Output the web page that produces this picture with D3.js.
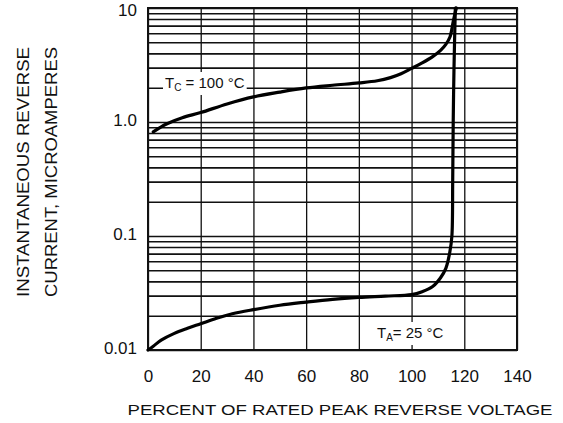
<!DOCTYPE html>
<html>
<head>
<meta charset="utf-8">
<script src="https://cdn.jsdelivr.net/npm/d3@7"></script>
<style>
  body { margin: 0; background: #fff; }
  text { font-family: 'Liberation Sans', Arial, sans-serif; fill: #111; }
</style>
</head>
<body>
<div id="chart"></div>
<script>
// data (percent of rated voltage, current in uA)
const xTicks = [0, 20, 40, 60, 80, 100, 120, 140];
const yTicks = [0.01, 0.1, 1, 10];
const yTickLabels = ['0.01', '0.1', '1.0', '10'];

const hotX = [2, 7, 13, 20, 30, 40, 50, 60, 70, 80, 87, 92, 96, 100, 104, 108, 111, 113, 114.6, 115.8, 116.6, 117];
const hotY = [0.82, 0.96, 1.09, 1.21, 1.44, 1.66, 1.83, 1.99, 2.1, 2.2, 2.3, 2.45, 2.65, 2.95, 3.3, 3.75, 4.25, 4.8, 5.6, 7.6, 9.2, 10];

const roomX = [0, 2, 5, 10, 15, 20, 26, 32, 40, 50, 60, 70, 80, 90, 100, 104, 108, 111, 113, 114.5, 115.3, 115.6, 115.8, 116.1, 116.6];
const roomY = [0.01, 0.0108, 0.0122, 0.014, 0.0155, 0.017, 0.019, 0.0208, 0.0226, 0.0247, 0.0263, 0.0278, 0.0289, 0.0297, 0.0306, 0.0325, 0.036, 0.043, 0.052, 0.072, 0.1, 0.3, 1.0, 3.0, 10];

const width = 563, height = 423;
const margin = { top: 8, right: 46, bottom: 73, left: 148 };
const w = width - margin.left - margin.right,
  h = height - margin.top - margin.bottom;

const svg = d3.select('#chart').append('svg')
  .attr('width', width)
  .attr('height', height);

const g = svg.append('g')
  .attr('transform', `translate(${margin.left},${margin.top})`);

const x = d3.scaleLinear().domain([0, 140]).range([0, w]);
const y = d3.scaleLog().domain([0.01, 10]).range([h, 0]);

// horizontal log grid
g.append('g')
  .call(d3.axisLeft(y).tickValues(y.ticks()).tickSize(-w).tickFormat(''))
  .call(s => s.select('.domain').remove())
  .call(s => s.selectAll('line').attr('stroke', '#111').attr('stroke-width', 1.6));

// vertical grid
g.append('g')
  .call(d3.axisBottom(x).tickValues(xTicks).tickSize(h).tickFormat(''))
  .call(s => s.select('.domain').remove())
  .call(s => s.selectAll('line').attr('stroke', '#111').attr('stroke-width', 1.3));

// frame
g.append('rect')
  .attr('width', w).attr('height', h)
  .attr('fill', 'none').attr('stroke', '#111').attr('stroke-width', 2);

// tick labels
const xa = g.append('g')
  .attr('transform', `translate(0,${h})`)
  .call(d3.axisBottom(x).tickValues(xTicks).tickSize(0).tickPadding(20).tickFormat(d => d));
xa.select('.domain').remove();
xa.attr('font-family', null).attr('font-size', null);
xa.selectAll('text').style('font-size', '17px');

const ya = g.append('g')
  .call(d3.axisLeft(y).tickValues(yTicks).tickSize(0).tickPadding(11)
    .tickFormat((d, i) => yTickLabels[i]));
ya.select('.domain').remove();
ya.attr('font-family', null).attr('font-size', null);
// top label sits a little lower so it stays inside the page
ya.selectAll('text').style('font-size', '17px')
  .attr('dy', d => d === 10 ? '0.45em' : '0.22em');

// curves
const line = d3.line()
  .x(d => x(d[0]))
  .y(d => y(d[1]))
  .curve(d3.curveCatmullRom.alpha(0.5));

g.append('path')
  .datum(hotX.map((v, i) => [v, hotY[i]]))
  .attr('fill', 'none').attr('stroke', '#000').attr('stroke-width', 3.2)
  .attr('stroke-linecap', 'round')
  .attr('d', line);

g.append('path')
  .datum(roomX.map((v, i) => [v, roomY[i]]))
  .attr('fill', 'none').attr('stroke', '#000').attr('stroke-width', 3.2)
  .attr('stroke-linecap', 'round')
  .attr('d', line);

// curve labels with white backing
function label(px, py, sub, rest) {
  const lg = g.append('g');
  const box = lg.append('rect').attr('fill', '#fff');
  const t = lg.append('text')
    .attr('x', px).attr('y', py)
    .style('font-size', '15px');
  t.append('tspan').text('T');
  t.append('tspan').style('font-size', '10px').attr('dy', 3).text(sub);
  t.append('tspan').attr('dy', -3).text(rest);
  const bb = t.node().getBBox();
  box.attr('x', bb.x - 2).attr('y', bb.y - 2)
    .attr('width', bb.width + 4).attr('height', bb.height + 4);
}
label(17, 80, 'C', ' = 100 °C');
label(229, 330, 'A', '= 25 °C');

// axis titles
svg.append('text')
  .attr('x', 340).attr('y', 415)
  .attr('text-anchor', 'middle')
  .style('font-size', '15.5px')
  .attr('textLength', 425).attr('lengthAdjust', 'spacingAndGlyphs')
  .text('PERCENT OF RATED PEAK REVERSE VOLTAGE');

svg.append('text')
  .attr('transform', 'translate(29,172) rotate(-90)')
  .attr('text-anchor', 'middle')
  .style('font-size', '16px')
  .attr('textLength', 250).attr('lengthAdjust', 'spacingAndGlyphs')
  .text('INSTANTANEOUS REVERSE');

svg.append('text')
  .attr('transform', 'translate(57,172) rotate(-90)')
  .attr('text-anchor', 'middle')
  .style('font-size', '16px')
  .attr('textLength', 250).attr('lengthAdjust', 'spacingAndGlyphs')
  .text('CURRENT, MICROAMPERES');
</script>
</body>
</html>
